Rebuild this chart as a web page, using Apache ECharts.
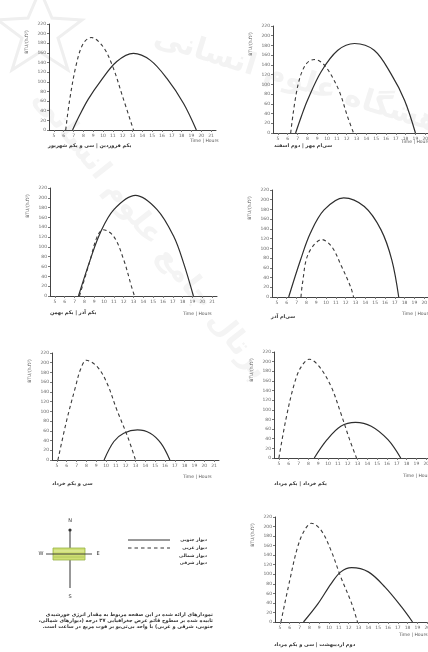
<!DOCTYPE html>
<html>
<head>
<meta charset="utf-8">
<script src="https://cdn.jsdelivr.net/npm/echarts@6/dist/echarts.min.js"></script>
<style>
html,body{margin:0;padding:0;background:#fff;}
#c{width:428px;height:652px;}
</style>
</head>
<body>
<div id="c"></div>
<script>
// ---- data ----
const hours = ['5','6','7','8','9','10','11','12','13','14','15','16','17','18','19','20','21'];
const captions = [
  'یکم فروردین | سی و یکم شهریور',
  'سی‌ام مهر | دوم اسفند',
  'یکم آذر | یکم بهمن',
  'سی‌ام آذر',
  'سی و یکم خرداد',
  'یکم خرداد | یکم مرداد',
  'دوم اردیبهشت | سی و یکم مرداد'
];
const legendNames = ['دیوار جنوبی','دیوار غربی','دیوار شمالی','دیوار شرقی'];
const noteLines = [
  'نمودارهای ارائه شده در این صفحه مربوط به مقدار انرژی خورشیدی',
  'تابیده شده بر سطوح قائم عرض جغرافیایی ۳۷ درجه (دیوارهای شمالی،',
  'جنوبی، شرقی و غربی) با واحد بی‌تی‌یو بر فوت مربع در ساعت است.'
];
const yName = 'BTU/(h.ft²)';
const xName = 'Time | Hours';

// south wall (solid) and west wall (dashed): [hour, BTU/h.ft2]
const south1 = [[6.9,0],[7.6,30],[8.5,64],[9.7,100],[11.4,142],[13.1,159],[14.8,145],[16.5,107],[18.2,55],[19.5,0]];
const west1  = [[6.2,0],[6.6,62],[7.3,138],[8,180],[8.8,192],[10,173],[11,131],[12,69],[13.1,0]];
const south2 = [[6.8,0],[7.4,35],[8,67],[9.4,126],[11.1,170],[12.8,184],[14.8,170],[16.5,122],[17.9,67],[19,0]];
const west2  = [[6.3,0],[7,95],[7.8,140],[8.7,151],[9.3,147],[10,133],[11.2,88],[12.1,33],[12.7,0]];
const south3 = [[7.4,0],[8.6,74],[9.6,128],[11,176],[13.2,205],[15.4,176],[17.1,121],[18.1,67],[19.1,0]];
const west3  = [[7.5,0],[8.6,74],[9.3,121],[9.9,135],[11,121],[12,74],[12.8,19],[13.1,0]];
const south4 = [[6.2,0],[7.4,76],[8.4,131],[9.8,179],[11.8,204],[13.9,186],[15.6,138],[16.7,76],[17.4,0]];
const west4  = [[7.45,0],[7.6,28],[8.2,89],[9.6,118],[10.6,103],[11.6,62],[12.5,21],[12.8,0]];
const south5 = [[9.8,0],[10.8,38],[11.8,55],[13.2,62],[14.5,55],[15.6,34],[16.5,0]];
const west5  = [[5.1,0],[6,82],[6.9,151],[7.4,186],[8,205],[9.1,192],[10.1,158],[11.1,103],[12.2,48],[13,0]];
const south6 = [[8.6,0],[9.9,38],[11.3,66],[12.8,74],[14.4,66],[16.1,38],[17.4,0]];
const west6  = [[5,0],[5.7,79],[6.5,149],[7.2,187],[8.1,205],[9.1,190],[10.3,149],[11.3,93],[12.2,38],[12.9,0]];
const south7 = [[7.4,0],[8.9,39],[10.2,80],[11.2,105],[12.3,114],[14,105],[15.7,73],[17.4,31],[18.5,0]];
const west7  = [[5.1,0],[6,87],[6.8,157],[7.5,192],[8.2,207],[9.2,192],[10.2,150],[11.2,94],[12.3,39],[12.9,0]];

const southAll = [south1,south2,south3,south4,south5,south6,south7];
const westAll  = [west1,west2,west3,west4,west5,west6,west7];

// ---- layout ----
const layouts = [
  {left:49,  top:24,  h:106, cap:[48,146],  time:[190,141]},
  {left:273, top:26,  h:107, cap:[274,146], time:[401,142]},
  {left:50,  top:188, h:108, cap:[50,313],  time:[183,314]},
  {left:272, top:190, h:107, cap:[271,317], time:[402,314]},
  {left:52,  top:353, h:107, cap:[52,484],  time:[183,477]},
  {left:274, top:352, h:106, cap:[274,484], time:[403,476]},
  {left:275, top:517, h:105, cap:[274,645], time:[399,635]}
];
const W = 167;
const FONT = '"DejaVu Sans", sans-serif';
const RLM = '\u200F';

const grid = [], xAxis = [], yAxis = [], series = [], graphic = [];

// watermark (faint)
graphic.push({type:'text', x:320, y:88, rotation:-0.3, z:-10,
  style:{text:'پژوهشگاه علوم انسانی', fill:'#f3f3f3', font:'bold 30px '+FONT, align:'center', verticalAlign:'middle'}});
graphic.push({type:'text', x:150, y:235, rotation:-0.9, z:-10,
  style:{text:'پرتال جامع علوم انسانی', fill:'#f4f4f4', font:'bold 30px '+FONT, align:'center', verticalAlign:'middle'}});
graphic.push({type:'polygon', z:-10, shape:{points:[[40,-10],[52,18],[82,20],[58,38],[68,70],[40,52],[12,70],[22,38],[-2,20],[28,18]]},
  style:{fill:'none', stroke:'#efefef', lineWidth:3}});

layouts.forEach((L, i) => {
  grid.push({left:L.left, top:L.top, width:W, height:L.h, containLabel:false, outerBoundsMode:'none'});
  xAxis.push({
    gridIndex:i, type:'category', data:hours, boundaryGap:true,
    axisLine:{show:true, lineStyle:{color:'#444', width:1}},
    axisTick:{show:true, alignWithLabel:true, length:2, lineStyle:{color:'#777'}},
    axisLabel:{interval:0, fontSize:4.5, color:'#666', margin:3, fontFamily:FONT},
    splitLine:{show:false}
  });
  xAxis.push({gridIndex:i, type:'value', min:4.5, max:21.5, show:false});
  yAxis.push({
    gridIndex:i, type:'value', min:0, max:220, interval:20,
    axisLine:{show:true, lineStyle:{color:'#444', width:1}},
    axisTick:{show:true, length:2, lineStyle:{color:'#777'}},
    axisLabel:{fontSize:4.5, color:'#666', margin:3, fontFamily:FONT},
    splitLine:{show:false}
  });
  series.push({
    type:'line', xAxisIndex:2*i+1, yAxisIndex:i, data:southAll[i],
    smooth:0.35, showSymbol:false, silent:true,
    lineStyle:{color:'#2e2e2e', width:1.2}
  });
  series.push({
    type:'line', xAxisIndex:2*i+1, yAxisIndex:i, data:westAll[i],
    smooth:0.35, showSymbol:false, silent:true,
    lineStyle:{color:'#3a3a3a', width:1.1, type:[3.5,3]}
  });
  graphic.push({type:'text', x:L.cap[0], y:L.cap[1],
    style:{text:captions[i]+RLM, fill:'#333', font:'bold 5px '+FONT, align:'left', verticalAlign:'middle'}});
  graphic.push({type:'text', x:L.time[0], y:L.time[1],
    style:{text:xName, fill:'#555', font:'4.5px '+FONT, align:'left', verticalAlign:'middle'}});
  graphic.push({type:'text', x:L.left-22, y:L.top+18, rotation:Math.PI/2,
    style:{text:yName, fill:'#555', font:'4.5px '+FONT, align:'center', verticalAlign:'middle'}});
});

// compass
graphic.push({type:'line', shape:{x1:70,y1:530,x2:70,y2:588}, style:{stroke:'#333', lineWidth:1}});
graphic.push({type:'circle', shape:{cx:70, cy:530, r:1.6}, style:{fill:'#333'}});
graphic.push({type:'rect', shape:{x:53, y:548, width:32, height:12},
  style:{fill:'#cfdf74', stroke:'#98b248', lineWidth:0.8}});
graphic.push({type:'line', shape:{x1:54,y1:551,x2:84,y2:551}, style:{stroke:'#e6efb0', lineWidth:0.8}});
graphic.push({type:'line', shape:{x1:54,y1:557,x2:84,y2:557}, style:{stroke:'#a9c257', lineWidth:0.8}});
graphic.push({type:'line', shape:{x1:46,y1:554,x2:92,y2:554}, style:{stroke:'#333', lineWidth:0.9}});
[['N',70,521],['S',70,597],['W',41,554],['E',98,554]].forEach(d => {
  graphic.push({type:'text', x:d[1], y:d[2],
    style:{text:d[0], fill:'#333', font:'5px '+FONT, align:'center', verticalAlign:'middle'}});
});

// legend
graphic.push({type:'line', shape:{x1:128,y1:540,x2:170,y2:540}, style:{stroke:'#333', lineWidth:1}});
graphic.push({type:'line', shape:{x1:128,y1:548,x2:170,y2:548}, style:{stroke:'#333', lineWidth:1, lineDash:[3.5,3]}});
[540,548,556,563].forEach((yy, k) => {
  graphic.push({type:'text', x:207, y:yy,
    style:{text:legendNames[k]+RLM, fill:'#333', font:'bold 4.5px '+FONT, align:'right', verticalAlign:'middle'}});
});

// note paragraph
[615,621,627].forEach((yy, k) => {
  graphic.push({type:'text', x:213, y:yy,
    style:{text:noteLines[k]+RLM, fill:'#333', font:'bold 5px '+FONT, align:'right', verticalAlign:'middle'}});
});

const chart = echarts.init(document.getElementById('c'), null, {renderer:'canvas'});
chart.setOption({
  backgroundColor:'#ffffff',
  animation:false,
  grid, xAxis, yAxis, series, graphic
});
</script>
</body>
</html>
